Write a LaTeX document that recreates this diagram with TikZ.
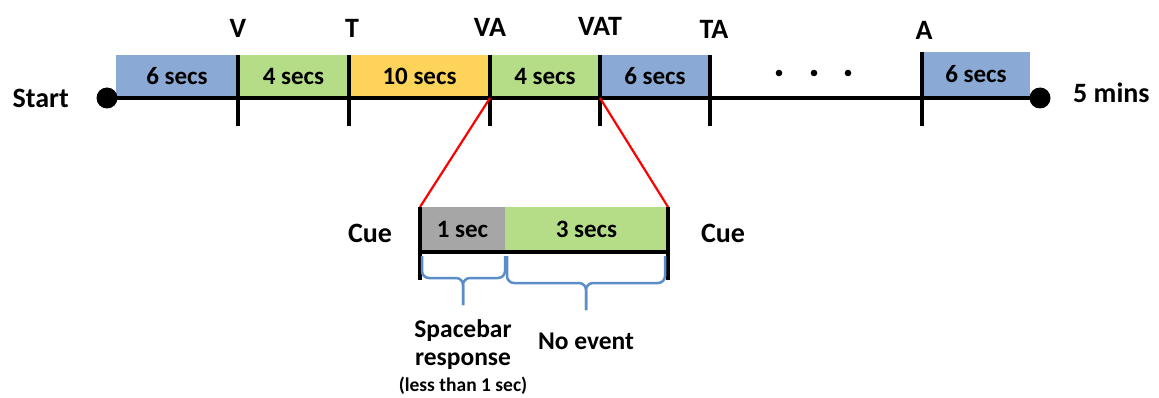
\documentclass[tikz,border=0pt]{standalone}
\usepackage{fontspec}
\setmainfont{Carlito}
\definecolor{cblue}{HTML}{8AA9D4}
\definecolor{cgreen}{HTML}{B5DD88}
\definecolor{cyellow}{HTML}{FDD35A}
\definecolor{cgray}{HTML}{A6A6A6}
\definecolor{cbrace}{HTML}{5B8EC8}
\begin{document}
\begin{tikzpicture}[x=1pt,y=-1pt,
  box/.style={draw=none,inner sep=0pt,outer sep=0pt,anchor=south west,minimum height=43pt,
    font=\fontsize{25}{28}\selectfont\bfseries},
  lbl/.style={inner sep=0pt,font=\fontsize{28}{32}\selectfont\bfseries},
  tick/.style={line width=3.5pt},
  redl/.style={red,line width=2.2pt},
  brc/.style={cbrace,line width=2.5pt,rounded corners=7pt},
  txt/.style={inner sep=0pt,font=\fontsize{25.5}{28}\selectfont\bfseries}]
\useasboundingbox (0,0) rectangle (1159,398);
% top timeline boxes
\node[box,fill=cblue,minimum width=122pt] (b1) at (116,98) {6 secs};
\node[box,fill=cgreen,minimum width=111pt] (b2) at (238,98) {4 secs};
\node[box,fill=cyellow,minimum width=141pt] (b3) at (349,98) {10 secs};
\node[box,fill=cgreen,minimum width=110pt] (b4) at (490,98) {4 secs};
\node[box,fill=cblue,minimum width=110pt] (b5) at (600,98) {6 secs};
\node[box,fill=cblue,minimum width=108pt,minimum height=45pt] (b6) at (922,97) {6 secs};
% main line
\node[circle,fill=black,inner sep=0pt,minimum size=21pt] (start) at (107,98) {};
\node[circle,fill=black,inner sep=0pt,minimum size=21pt] (stop) at (1040,98) {};
\draw[tick] (start.center) -- (stop.center);
\node[lbl,anchor=east] (lstart) at (69,98) {Start};
\node[lbl,anchor=west] (lstop) at (1073,93) {5 mins};
% ticks
\foreach \n/\x/\t in {v/238/55,t/349/55,va/490/55,vat/600/55,ta/710/55,a/922/52}{
  \coordinate (\n top) at (\x,\t);
  \coordinate (\n bot) at (\x,126);
  \draw[tick] (\n top) -- (\n bot);
}
\node[lbl] (lv) at (238,28) {V};
\node[lbl] (lt) at (352,28) {T};
\node[lbl] (lva) at (490,27) {VA};
\node[lbl] (lvat) at (600,26) {VAT};
\node[lbl] (lta) at (714,29) {TA};
\node[lbl] (la) at (924,30) {A};
% ellipsis dots
\foreach \x in {779,814,848}{\fill (\x,73) circle (3.3pt);}
% zoom lines
\coordinate (va) at (490,98);
\coordinate (vat) at (600,98);
\node[box,fill=cgray,minimum width=85pt,minimum height=45pt] (s1) at (420,252) {1 sec};
\node[box,fill=cgreen,minimum width=163pt,minimum height=45pt] (s2) at (505,252) {3 secs};
\draw[redl] (va) -- (s1.north west);
\draw[redl] (vat) -- (s2.north east);
\coordinate (l1) at (420,280);
\coordinate (r1) at (668,280);
\draw[tick] (s1.north west) -- (l1);
\draw[tick] (s2.north east) -- (r1);
\draw[tick] (s1.south west) -- (s2.south east);
\node[lbl] (cue1) at (370,233) {Cue};
\node[lbl] (cue2) at (723,233) {Cue};
% braces
\draw[brc] (422,256) |- (463,278) -- (463,305);
\draw[brc] (505,256) |- (463,278) -- (463,305);
\draw[brc] (507,256) |- (586,283) -- (586,310);
\draw[brc] (665,256) |- (586,283) -- (586,310);
\node[txt] (sp) at (463,331) {Spacebar};
\node[txt] (resp) at (463,361) {response};
\node[inner sep=0pt,font=\fontsize{19.5}{22}\selectfont\bfseries] (less) at (463,386) {(less than 1 sec)};
\node[txt] (ne) at (586,341) {No event};
\end{tikzpicture}
\end{document}
